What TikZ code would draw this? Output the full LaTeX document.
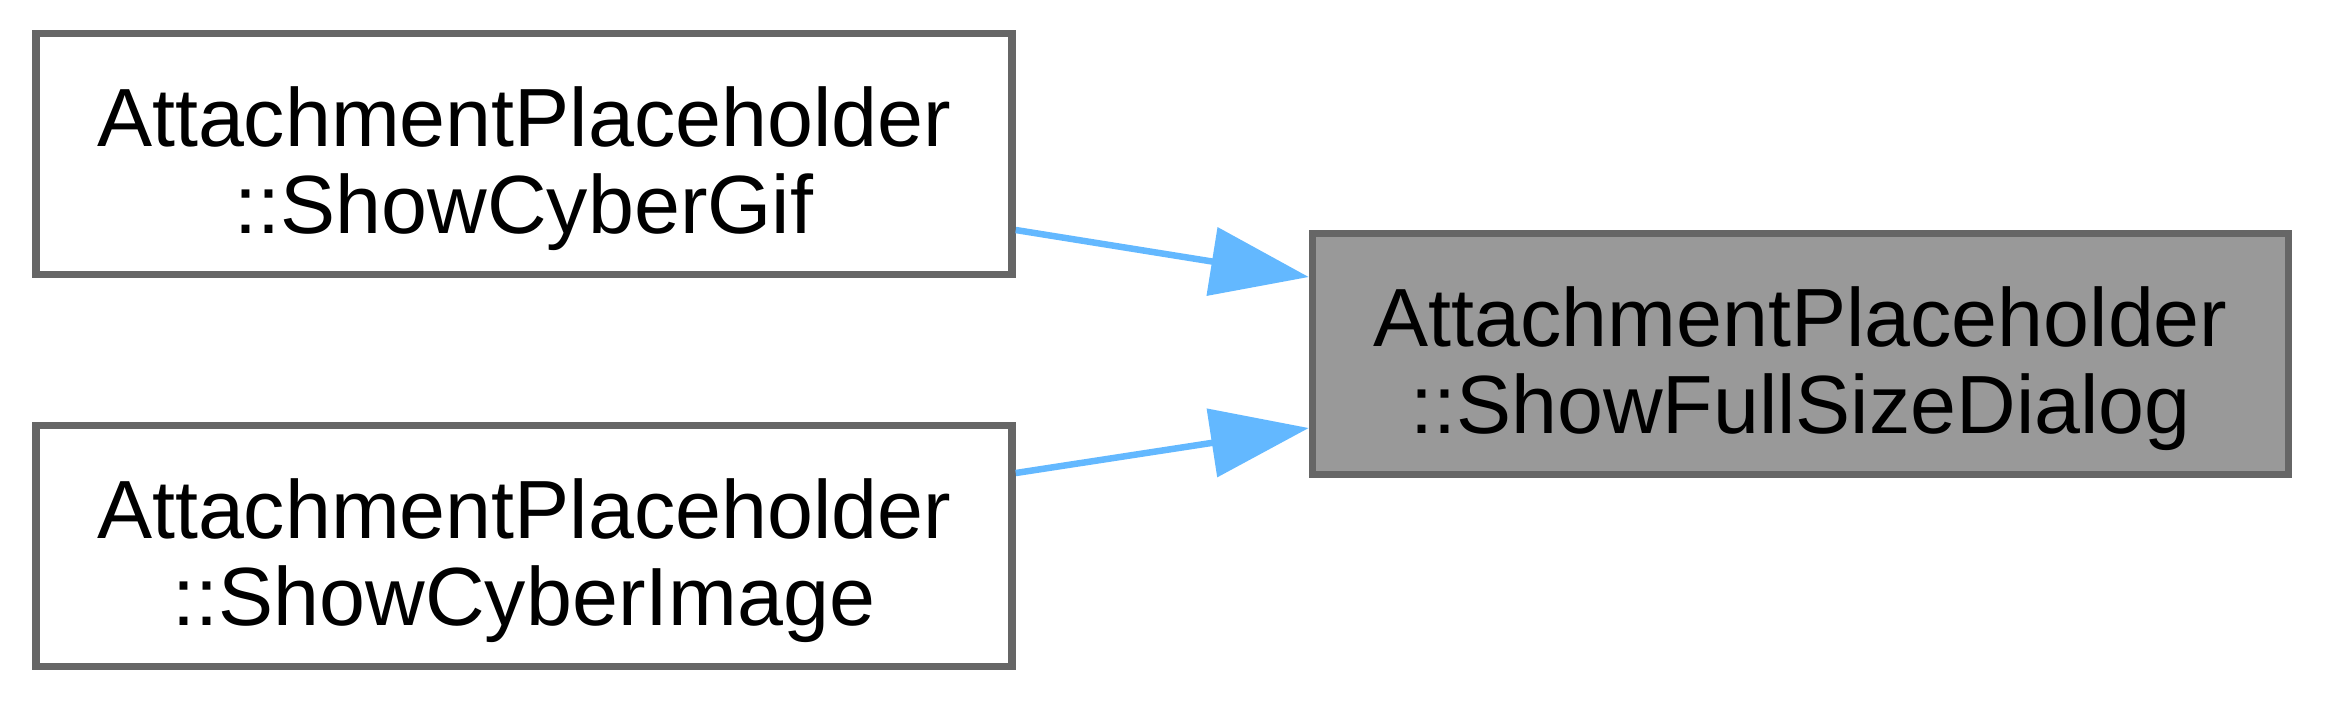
\documentclass[tikz,border=0pt]{standalone}
\usepackage{fontspec}
\setmainfont{Liberation Sans}
\usetikzlibrary{arrows.meta}
\definecolor{nodeborder}{HTML}{666666}
\definecolor{nodehl}{HTML}{999999}
\definecolor{calledge}{HTML}{63B8FF}

\begin{document}
\begin{tikzpicture}[>={Triangle[length=0.98cm,width=0.68cm]},font=\fontsize{23.5}{24.5}\selectfont,
  fnbox/.style={draw=nodeborder,line width=0.075cm,fill=white,align=center,inner sep=0pt,minimum width=9.76cm,minimum height=2.41cm,text height=1.75cm,text depth=0.17cm},
  hlbox/.style={fnbox,fill=nodehl},
  callarrow/.style={->,draw=calledge,line width=0.065cm}]
\useasboundingbox (0,0) rectangle (23.25,7);
\node[fnbox] (gif) at (5.24,5.46) {AttachmentPlaceholder\\::ShowCyberGif};
\node[fnbox] (img) at (5.24,1.54) {AttachmentPlaceholder\\::ShowCyberImage};
\node[hlbox] (dlg) at (18.005,3.46) {AttachmentPlaceholder\\::ShowFullSizeDialog};
\draw[callarrow] ([yshift=-0.76cm]gif.east) -- ([yshift=0.77cm]dlg.west);
\draw[callarrow] ([yshift=0.73cm]img.east) -- ([yshift=-0.74cm]dlg.west);
\end{tikzpicture}
\end{document}
